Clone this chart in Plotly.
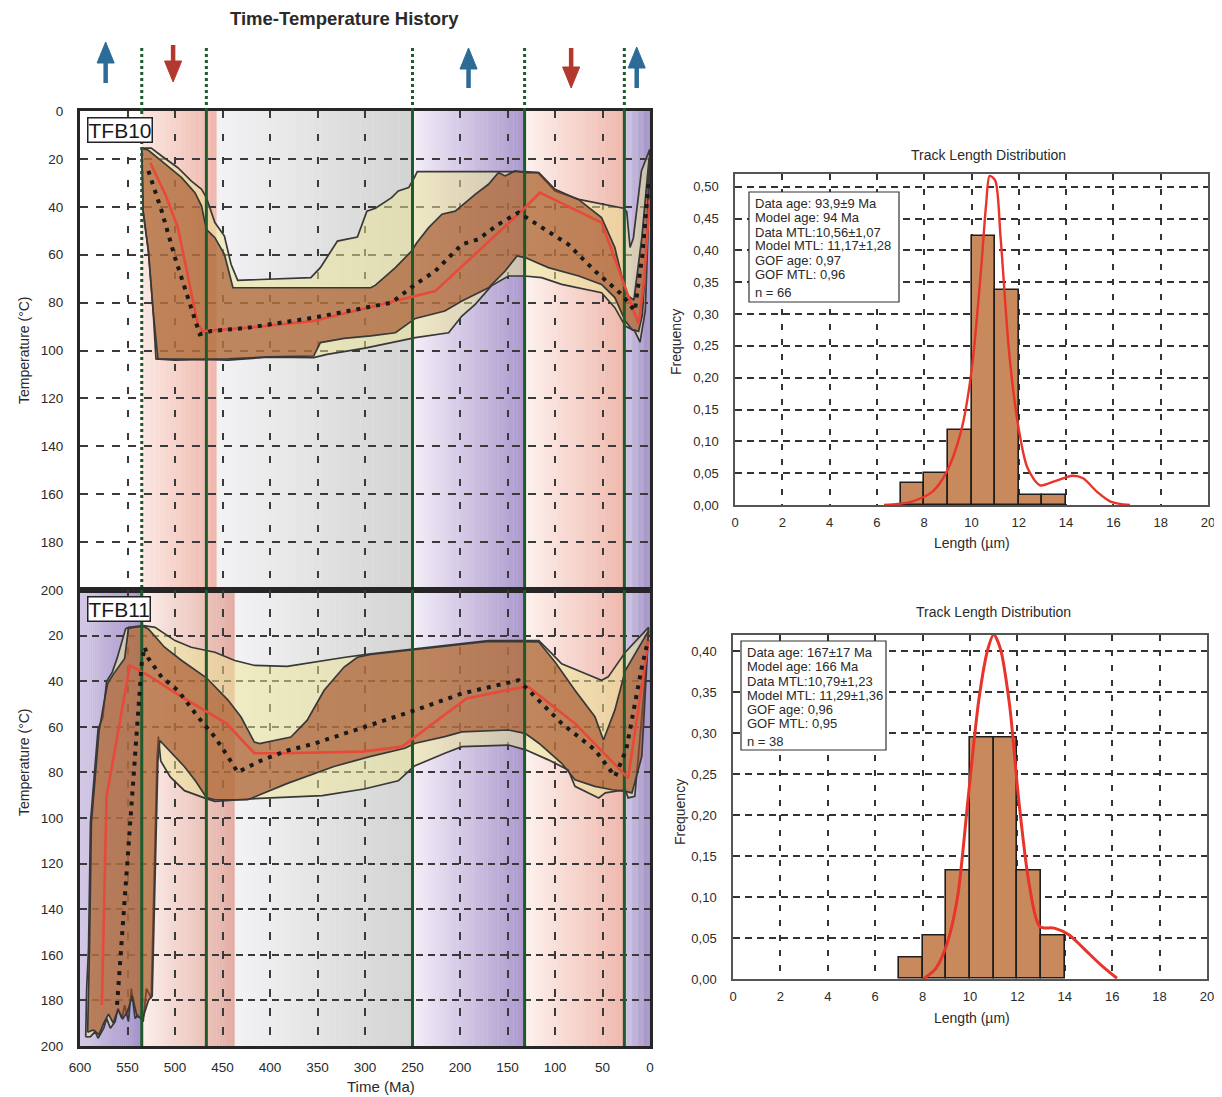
import plotly.graph_objects as go

W, H = 1222, 1097
OFF = 8  # page body margin of the browser
def fx(p): return (p - OFF) / W
def fy(p): return 1 - (p - OFF) / H

FONT = "Liberation Sans Narrow, Arial Narrow, Liberation Sans, Arial, sans-serif"

# ---------------- data ----------------
boundaries_ma = [535, 467, 250, 132, 27]
events_t = [573, 502, 191, 83, 14]
events_dir = ["up", "down", "up", "down", "up"]

temp_ticks = list(range(0, 201, 20))
time_ticks = list(range(600, -1, -50))

# TFB10 envelopes (time Ma, temperature C)
tfb10_outer_upper_t = [535, 525, 514, 497, 483, 472, 467, 458, 448, 441, 434, 357, 347, 329, 308, 298, 289, 272, 265, 254, 249, 245, 132, 118, 100, 75, 28, 24.5, 21, 17.5, 9, 1.5, 0.3]
tfb10_outer_upper_T = [15.5, 15.5, 18.8, 23.7, 29.2, 32.7, 36.2, 46.6, 52.2, 64, 70.7, 69.6, 65.4, 54.3, 52.6, 41.8, 40.6, 36.2, 33.4, 32, 28.5, 25.3, 25.3, 25.7, 33.4, 36.9, 40.6, 42, 57, 53, 25, 16.5, 16]
tfb10_outer_lower_t = [535, 533.5, 528, 523, 520, 500, 472, 444, 402, 354, 340, 300, 247, 212, 198, 184, 167, 149, 132, 114, 93, 51, 37, 26, 16, 10.5, 5, 2, 0.3]
tfb10_outer_lower_T = [15.5, 42, 58.5, 83.5, 103.5, 104, 103.7, 104, 102.8, 103, 101.6, 99, 94.6, 92.6, 85.6, 80.7, 73, 68.9, 68.9, 69.6, 72.4, 75.9, 82.1, 89.8, 91.9, 96.5, 83.5, 50, 16]
tfb10_inner_upper_t = [535, 528, 514, 493, 479, 472, 467, 458, 448, 439, 294, 289, 268, 251, 245.5, 233, 219, 205, 184, 170, 159.5, 152.5, 142, 131.5, 117, 100, 75, 51, 37, 26, 22.7, 17, 8.6, 3.4, 0.9]
tfb10_inner_upper_T = [15.5, 16.4, 20.9, 27.8, 34.1, 39.7, 49.4, 52.9, 59.8, 73.8, 73.8, 72.7, 65.4, 58.5, 55, 48.7, 43.1, 41.8, 34.8, 30.6, 25.7, 27.1, 25, 25.7, 25.7, 32.7, 37, 44.5, 57, 75.2, 77.2, 79, 52.9, 27.8, 19.5]
tfb10_inner_lower_t = [535, 533.5, 528, 523, 518, 472, 444, 402, 354, 347, 322, 294, 268, 247, 216, 198, 170, 152.5, 140, 131.5, 107, 75, 51, 37, 26, 19, 12, 8, 4, 1.5, 0.9]
tfb10_inner_lower_T = [15.5, 42, 58.5, 83.5, 103.5, 103.7, 103.5, 102.7, 102.3, 96.7, 94.9, 93.9, 92.6, 86.6, 83.5, 79.3, 73.8, 66.8, 60.5, 61.2, 65.4, 68.9, 72.4, 77.9, 87.7, 91.2, 92, 85, 60, 30, 19.5]
tfb10_mean_t = [526, 510, 497, 486, 476, 470.5, 423.5, 354, 303, 247, 226, 131.5, 116, 51, 26, 12, 6, 0.5]
tfb10_mean_T = [21.6, 35, 48.7, 70, 89, 91.9, 90.5, 87.7, 82.8, 77.2, 75.2, 40.4, 34.1, 46.6, 73.8, 89, 70, 37]
tfb10_best_t = [528, 514, 500, 486, 474, 462, 423.5, 354, 300, 272, 247, 226, 198, 181, 159.5, 138.5, 130, 107, 86, 58, 30, 16, 8, 1.5]
tfb10_best_T = [25, 41.8, 61.2, 78, 93.2, 91.9, 90.5, 86.3, 82.1, 80, 72.4, 66.8, 55.7, 53.6, 47.3, 42.4, 44.5, 50.1, 55.7, 66.8, 76.5, 83.5, 60, 30]

# TFB11 envelopes
tfb11_outer_upper_t = [594, 593, 591, 589, 581, 576, 572, 566, 561, 552, 549, 542, 533, 521, 500, 483, 458, 437, 416, 382, 354, 319, 294, 247, 198, 170, 131, 117, 103, 93, 72, 51, 44, 26, 1.5]
tfb11_outer_upper_T = [196, 175, 157, 102, 61, 56, 40, 36, 30, 17, 16.4, 16, 15.6, 16.4, 22.2, 25.1, 27.3, 30.9, 33.1, 33.5, 31.6, 29.4, 28, 25.8, 23.6, 22.2, 22.2, 22.2, 28, 32.4, 36, 39.6, 38.1, 27.3, 16.4]
tfb11_outer_lower_t = [594, 589, 584, 581, 575, 572, 568, 563, 560, 556, 553, 549, 546, 542, 539, 533.5, 530, 525, 523, 521, 519, 517.5, 515, 505, 490, 467, 458, 420, 345, 301, 265, 248, 216, 198, 149, 131, 107, 86, 79, 72, 54, 47, 37, 26, 23, 16, 5, 1.5]
tfb11_outer_lower_T = [196, 195.9, 193.7, 196.6, 192.2, 187.9, 192.2, 189.3, 183.5, 187.9, 182.1, 189.3, 174.8, 187.9, 186.4, 189.3, 174.8, 179, 150, 110, 75, 64.3, 75, 82, 88, 91.5, 92.7, 91.6, 90.2, 87.3, 83.7, 77.2, 71.6, 68.7, 68, 70.1, 74.5, 78.9, 86.1, 87.6, 91.2, 89, 88.3, 87.6, 91.2, 90.5, 38.2, 16.4]
tfb11_inner_upper_t = [592, 590, 588, 580, 575, 571, 565, 553, 549, 542, 533, 528, 511, 493, 467, 444, 430.5, 416.5, 411, 378, 361, 343, 322, 308, 294, 247, 198, 170, 131, 117, 100, 79, 58, 49, 37, 26, 1.5]
tfb11_inner_upper_T = [194, 157, 102, 62, 50, 41, 37, 30, 16.8, 16.3, 16, 17.1, 25.1, 30.9, 38.5, 48.4, 55.7, 66.7, 67.4, 64.5, 57.2, 44, 33.8, 29.5, 28.3, 26.2, 24, 22.6, 22.6, 22.8, 31.6, 44, 55.6, 65.8, 52.7, 35.3, 17.8]
tfb11_inner_lower_t = [592, 586, 580, 575, 570, 565, 560, 555, 550, 545, 540, 534, 528, 524, 522, 520, 518, 516, 505, 490, 478, 467, 458, 423.5, 381.6, 332.7, 294, 258, 247, 216, 198, 149, 131.5, 117, 93, 79, 58, 40, 26, 19, 8.6, 1.5]
tfb11_inner_lower_T = [194, 193, 195, 190, 186, 190, 184, 188, 185, 178, 187, 188, 180, 178, 150, 110, 75, 66, 71, 77.5, 84, 91, 92, 92, 84.8, 77.4, 73, 69.4, 67.2, 64.3, 62.2, 61.4, 62.9, 67.2, 76, 83.2, 86.1, 87.6, 88.3, 89, 73, 17.8]
tfb11_mean_t = [577, 572, 547.5, 528, 493, 446, 416.5, 388.6, 303, 261, 247, 193, 133, 128, 79, 30, 23, 1.6]
tfb11_mean_T = [182, 90.5, 33.1, 37.5, 46.9, 58.5, 71.6, 71.6, 70.9, 68.7, 64.3, 47.6, 42.5, 42.5, 58.5, 79.6, 82.5, 22.2]
tfb11_best_t = [561, 550, 540, 535, 532, 528, 514, 497, 476, 458, 444, 434, 409.5, 381.6, 353.7, 294, 268, 247, 198, 138.5, 124.4, 93, 58, 36.7, 25, 8.6, 2]
tfb11_best_T = [182, 120, 60, 32, 25, 30, 38.2, 44, 55.6, 64.5, 73.3, 79.9, 74.8, 70.4, 67.4, 59.4, 55.6, 52.7, 45.4, 39.6, 45.4, 58.5, 70.1, 81.8, 70, 33.8, 22]

# Track length histograms
hist10_bin_left = [7, 8, 9, 10, 11, 12, 13]
hist10_freq = [0.034, 0.051, 0.118, 0.423, 0.338, 0.016, 0.016]
pdf10_len = [6.3, 7.43, 8.35, 8.95, 9.56, 10.0, 10.4, 10.62, 10.77, 11.0, 11.23, 11.6, 11.99, 12.37, 12.9, 13.5, 14.26, 14.72, 15.3, 15.9, 16.7]
pdf10_freq = [0, 0.005, 0.021, 0.052, 0.116, 0.21, 0.368, 0.473, 0.517, 0.51, 0.42, 0.236, 0.121, 0.058, 0.031, 0.037, 0.046, 0.042, 0.021, 0.005, 0]
hist11_bin_left = [7, 8, 9, 10, 11, 12, 13]
hist11_freq = [0.026, 0.053, 0.132, 0.295, 0.295, 0.132, 0.053]
pdf11_len = [8.03, 8.56, 9.02, 9.47, 9.92, 10.38, 10.76, 11.0, 11.28, 11.67, 12.05, 12.5, 12.95, 13.56, 14.17, 14.77, 15.53, 16.2]
pdf11_freq = [0, 0.013, 0.042, 0.099, 0.22, 0.342, 0.403, 0.42, 0.403, 0.334, 0.22, 0.115, 0.064, 0.062, 0.054, 0.038, 0.017, 0.001]
len_ticks = list(range(0, 21, 2))
freq10_ticks = [round(i * 0.05, 2) for i in range(11)]
freq11_ticks = [round(i * 0.05, 2) for i in range(9)]

info10 = ["Data age: 93,9±9 Ma", "Model age: 94 Ma", "Data MTL:10,56±1,07", "Model MTL: 11,17±1,28",
          "GOF age: 0,97", "GOF MTL: 0,96", "n = 66"]
info11 = ["Data age: 167±17 Ma", "Model age: 166 Ma", "Data MTL:10,79±1,23", "Model MTL: 11,29±1,36",
          "GOF age: 0,96", "GOF MTL: 0,95", "n = 38"]

# background tectonic bands (old, young, colour at old side, colour at young side)
bands_top = [(535, 456, "#fbe8e3", "#efb6ab"), (456, 250, "#f3f3f5", "#d3d3d3"),
             (250, 132, "#f4eef8", "#ab99cd"), (132, 27, "#fdf2ee", "#efb7ac"), (27, 0, "#d3c8e5", "#a08fc4")]
bands_bot = [(600, 535, "#d3c9e7", "#a593c8"), (535, 437, "#fcefeb", "#e3ada3"), (437, 250, "#f3f3f5", "#d3d3d3"),
             (250, 132, "#f4eef8", "#ab99cd"), (132, 27, "#fdf2ee", "#efb7ac"), (27, 0, "#d3c8e5", "#a08fc4")]

# ---------------- styles ----------------
CREAM = "rgba(235,228,150,0.52)"
BROWN = "rgba(162,76,36,0.63)"
EDGE = "#383838"
RED = "#e74a3a"
GREEN = "#1d5a2c"
GRID = "#3a3a3a"
TXT = "#2a2a2a"

def hex2rgb(h):
    h = h.lstrip("#")
    return tuple(int(h[i:i + 2], 16) for i in (0, 2, 4))

def mix(c0, c1, f):
    a, b = hex2rgb(c0), hex2rgb(c1)
    return "rgb(%d,%d,%d)" % tuple(round(a[i] + (b[i] - a[i]) * f) for i in range(3))

fig = go.Figure()

def envelope(ut, uT, lt, lT, fillc, xa, ya):
    fig.add_trace(go.Scatter(x=ut + lt[::-1], y=uT + lT[::-1], mode="lines", fill="toself",
                             fillcolor=fillc, line=dict(color=EDGE, width=1.7),
                             xaxis=xa, yaxis=ya, hoverinfo="skip"))

def paths(mt, mT, bt, bT, xa, ya):
    fig.add_trace(go.Scatter(x=mt, y=mT, mode="lines", line=dict(color=RED, width=2.6),
                             xaxis=xa, yaxis=ya, hoverinfo="skip"))
    fig.add_trace(go.Scatter(x=bt, y=bT, mode="lines", line=dict(color="#1a1a1a", width=4, dash="4px,6px"),
                             xaxis=xa, yaxis=ya, hoverinfo="skip"))

def green_lines(xa, ya, dotted_first):
    for i, b in enumerate(boundaries_ma):
        dash = "3px,3px" if (dotted_first and i == 0) else "solid"
        fig.add_trace(go.Scatter(x=[b, b], y=[0, 200], mode="lines",
                                 line=dict(color=GREEN, width=3, dash=dash),
                                 xaxis=xa, yaxis=ya, hoverinfo="skip"))

# TFB10 panel
envelope(tfb10_outer_upper_t, tfb10_outer_upper_T, tfb10_outer_lower_t, tfb10_outer_lower_T, CREAM, "x", "y")
envelope(tfb10_inner_upper_t, tfb10_inner_upper_T, tfb10_inner_lower_t, tfb10_inner_lower_T, BROWN, "x", "y")
green_lines("x", "y", True)
paths(tfb10_mean_t, tfb10_mean_T, tfb10_best_t, tfb10_best_T, "x", "y")

# TFB11 panel
envelope(tfb11_outer_upper_t, tfb11_outer_upper_T, tfb11_outer_lower_t, tfb11_outer_lower_T, CREAM, "x2", "y2")
envelope(tfb11_inner_upper_t, tfb11_inner_upper_T, tfb11_inner_lower_t, tfb11_inner_lower_T, BROWN, "x2", "y2")
green_lines("x2", "y2", False)
paths(tfb11_mean_t, tfb11_mean_T, tfb11_best_t, tfb11_best_T, "x2", "y2")

# Histograms
for left, freq, plen, pfreq, xa, ya in [(hist10_bin_left, hist10_freq, pdf10_len, pdf10_freq, "x3", "y3"),
                                         (hist11_bin_left, hist11_freq, pdf11_len, pdf11_freq, "x4", "y4")]:
    fig.add_trace(go.Bar(x=[l + 0.5 for l in left], y=freq, width=1,
                         marker=dict(color="#c88a5c", line=dict(color="#1e1e1e", width=1.6)),
                         xaxis=xa, yaxis=ya, hoverinfo="skip"))
    fig.add_trace(go.Scatter(x=plen, y=pfreq, mode="lines",
                             line=dict(color="#e8342a", width=2.4 if xa == "x3" else 3, shape="spline", smoothing=0.8),
                             xaxis=xa, yaxis=ya, hoverinfo="skip"))

# Arrows and dotted guide lines above the T-t panels (overlay axis x5/y5, y in px above box)
arrow_span = [(28, 69), (66, 29), (23, 63), (63, 23), (23, 64)]
HW, HL = 9, 21
for b in boundaries_ma:
    fig.add_trace(go.Scatter(x=[b, b], y=[0, 66], mode="lines", line=dict(color=GREEN, width=3, dash="3px,3px"),
                             xaxis="x5", yaxis="y5", hoverinfo="skip"))
for t, d, (tail, tip) in zip(events_t, events_dir, arrow_span):
    col = "#2c6b97" if d == "up" else "#b3392e"
    s = 1 if tip > tail else -1
    base = tip - s * HL
    fig.add_trace(go.Scatter(x=[t, t], y=[tail, base], mode="lines", line=dict(color=col, width=4.5),
                             xaxis="x5", yaxis="y5", hoverinfo="skip"))
    fig.add_trace(go.Scatter(x=[t - HW, t + HW, t, t - HW], y=[base, base, tip, base], mode="lines",
                             fill="toself", fillcolor=col, line=dict(color=col, width=1),
                             xaxis="x5", yaxis="y5", hoverinfo="skip"))

# background shapes
shapes = []
def band_shapes(bands, xref, ylo, yhi, n=30):
    for t0, t1, c0, c1 in bands:
        for i in range(n):
            a = t0 + (t1 - t0) * i / n
            b = t0 + (t1 - t0) * (i + 1) / n
            b = b - 0.4 if i < n - 1 else b
            shapes.append(dict(type="rect", xref=xref, yref="paper", x0=a, x1=b, y0=ylo, y1=yhi,
                               fillcolor=mix(c0, c1, (i + 0.5) / n), line=dict(width=0), layer="below"))
band_shapes(bands_top, "x", fy(590), fy(111))
band_shapes(bands_bot, "x2", fy(1046), fy(590))

# info boxes (frame + one text line each)
info_line_dy = [11.5, 25.5, 40, 54, 68.5, 82.5, 100.5]
annotations = []
for lines, (bx0, by0, bx1, by1) in [(info10, (749, 192, 899, 302)), (info11, (741, 641, 886, 750))]:
    shapes.append(dict(type="rect", xref="paper", yref="paper", x0=fx(bx0), x1=fx(bx1), y0=fy(by1), y1=fy(by0),
                       fillcolor="white", line=dict(color="#333333", width=1.2), layer="above"))
    for txt, dy in zip(lines, info_line_dy):
        annotations.append(dict(text=txt, x=fx(bx0 + 4), y=fy(by0 + dy), xref="paper", yref="paper",
                                xanchor="left", yanchor="middle", showarrow=False,
                                font=dict(family=FONT, size=13, color=TXT)))

def label(text, x, y, size, angle=0, bold=False):
    annotations.append(dict(text=("<b>%s</b>" % text) if bold else text, x=fx(x), y=fy(y),
                            xref="paper", yref="paper", xanchor="center", yanchor="middle",
                            textangle=angle, showarrow=False, font=dict(family=FONT, size=size, color=TXT)))

label("Time-Temperature History", 344, 18, 18.5, bold=True)
label("Temperature (°C)", 24, 350, 14, angle=-90)
label("Temperature (°C)", 24, 762, 14, angle=-90)
label("Time (Ma)", 381, 1086, 15)
label("Track Length Distribution", 988, 155, 14)
label("Track Length Distribution", 993, 612, 14)
label("Frequency", 676, 342, 14, angle=-90)
label("Frequency", 680, 812, 14, angle=-90)
label("Length (µm)", 972, 543, 14)
label("Length (µm)", 972, 1018, 14)
for name, ytop in [("TFB10", 117), ("TFB11", 596)]:
    annotations.append(dict(text=name, x=fx(87), y=fy(ytop), xref="paper", yref="paper", xanchor="left",
                            yanchor="top", showarrow=False, bgcolor="white", bordercolor="#222",
                            borderwidth=1.5, borderpad=0, font=dict(family=FONT, size=21, color="#1a1a1a")))

tick_font = dict(family=FONT, size=13.5, color=TXT)
hist_font = dict(family=FONT, size=13, color=TXT)

common_tt = dict(showgrid=True, gridcolor=GRID, gridwidth=1.6, zeroline=False, showline=True, mirror=True,
                 linecolor="#262626", linewidth=3, ticks="", tickfont=tick_font, automargin=False)
common_hist = dict(showgrid=True, gridcolor="#333333", gridwidth=1.5, zeroline=False, showline=True, mirror=True,
                   linecolor="#555555", linewidth=1.5, ticks="", tickfont=hist_font, automargin=False)

fig.update_layout(
    width=W, height=H, margin=dict(l=0, r=0, t=0, b=0, pad=0, autoexpand=False), showlegend=False,
    paper_bgcolor="white", plot_bgcolor="white", separators=",.",
    font=dict(family=FONT, color=TXT),
    shapes=shapes, annotations=annotations, bargap=0,
    xaxis=dict(domain=[fx(80), fx(650)], range=[600, 0], anchor="y", tickvals=time_ticks[1:-1],
               showticklabels=False, griddash="7px,16px", **common_tt),
    yaxis=dict(domain=[fy(590), fy(111)], range=[200, 0], anchor="x", tickvals=temp_ticks,
               griddash="8px,8px", ticklabelstandoff=11, **common_tt),
    xaxis2=dict(domain=[fx(80), fx(650)], range=[600, 0], anchor="y2", tickvals=time_ticks,
                griddash="8px,11px", ticklabelstandoff=7, **common_tt),
    yaxis2=dict(domain=[fy(1046), fy(590)], range=[200, 0], anchor="x2", tickvals=temp_ticks[1:],
                griddash="7px,5px", ticklabelstandoff=11, **common_tt),
    xaxis3=dict(domain=[fx(735), fx(1208)], range=[0, 20], anchor="y3", tickvals=len_ticks,
                griddash="6px,9px", ticklabelstandoff=5, **common_hist),
    yaxis3=dict(domain=[fy(505), fy(174)], range=[0, 0.52], anchor="x3", tickvals=freq10_ticks,
                tickformat=".2f", griddash="7px,5px", ticklabelstandoff=12, **common_hist),
    xaxis4=dict(domain=[fx(733), fx(1207)], range=[0, 20], anchor="y4", tickvals=len_ticks,
                griddash="6px,9px", ticklabelstandoff=5, **common_hist),
    yaxis4=dict(domain=[fy(979), fy(634.6)], range=[0, 0.42], anchor="x4", tickvals=freq11_ticks,
                tickformat=".2f", griddash="7px,5px", ticklabelstandoff=12, **common_hist),
    xaxis5=dict(domain=[fx(80), fx(650)], range=[600, 0], anchor="y5", visible=False, automargin=False),
    yaxis5=dict(domain=[fy(111), fy(30)], range=[0, 81], anchor="x5", visible=False, automargin=False),
)

fig.write_html("out.html")
